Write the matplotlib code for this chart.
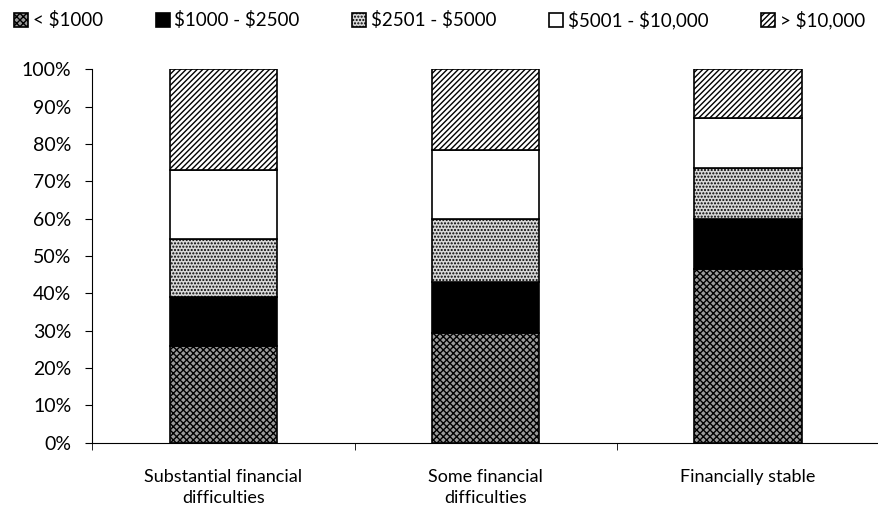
import numpy as np
import matplotlib
matplotlib.use('Agg')
import matplotlib.pyplot as plt
from matplotlib.ticker import FixedLocator, PercentFormatter

plt.rcParams['font.family'] = ['Lato', 'DejaVu Sans']
plt.rcParams['hatch.linewidth'] = 1.0
plt.rcParams['text.parse_math'] = False

categories = ['Substantial financial\ndifficulties', 'Some financial\ndifficulties', 'Financially stable']
labels = ['< $1000', '$1000 - $2500', '$2501 - $5000', '$5001 - $10,000', '> $10,000']
under_1000 = [26, 29.5, 46.5]
r1000_2500 = [13, 13.5, 13.5]
r2501_5000 = [15.5, 17, 13.5]
r5001_10000 = [18.5, 18.5, 13.5]
over_10000 = [27, 21.5, 13]

series = [under_1000, r1000_2500, r2501_5000, r5001_10000, over_10000]
faces = ['#9a9a9a', 'black', '#d8d8d8', 'white', 'white']
hatches = ['xxxxx', None, '.....', None, '//////']

fig = plt.figure(figsize=(8.79, 5.13), dpi=100)
ax = fig.add_axes([0.105, 0.137, 0.895, 0.728])

x = np.arange(len(categories))
bottom = np.zeros(len(categories))
for vals, lab, fc, h in zip(series, labels, faces, hatches):
    ax.bar(x, vals, 0.41, bottom=bottom, color=fc, edgecolor='black',
           hatch=h, linewidth=1.2, label=lab)
    bottom += np.array(vals)

ax.set_xlim(-0.5, 2.5)
ax.set_ylim(0, 100)
ax.set_yticks(np.arange(0, 101, 10))
ax.yaxis.set_major_formatter(PercentFormatter(decimals=0))
ax.set_xticks(x)
ax.set_xticklabels(categories, fontsize=13, linespacing=1.4)
ax.tick_params(axis='x', length=0, pad=19)
ax.xaxis.set_minor_locator(FixedLocator([-0.5, 0.5, 1.5]))
ax.tick_params(axis='x', which='minor', length=5, direction='out')
ax.tick_params(axis='y', labelsize=14, length=5, direction='out', pad=10)
for s in ['top', 'right']:
    ax.spines[s].set_visible(False)

leg = fig.legend(loc='upper center', bbox_to_anchor=(0.5, 1.012), ncol=5, frameon=False,
                 fontsize=13.5, handlelength=0.75, handleheight=0.75, handletextpad=0.25,
                 columnspacing=2.8)

plt.savefig('out.png', dpi=100)
